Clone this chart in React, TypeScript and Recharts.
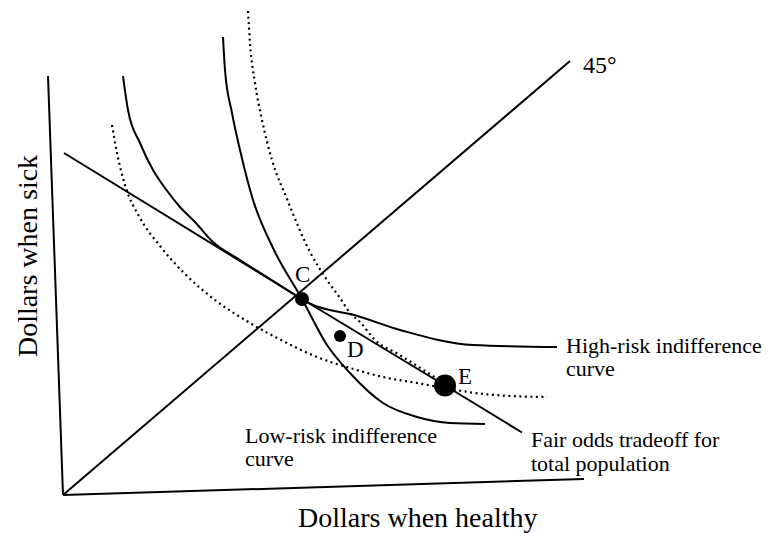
import React from 'react';
import { ComposedChart, Line, XAxis, YAxis, Scatter } from 'recharts';

const W = 771;
const H = 533;
const FONT = "'Liberation Serif', 'Times New Roman', Times, serif";
const INK = '#000';

// Axes and reference lines (data units: dollars when healthy / dollars when sick)
const verticalAxis = [
  { x: -3, y: 83.8 },
  { x: 0, y: 0 },
];
const horizontalAxis = [
  { x: 0, y: 0 },
  { x: 104.2, y: 3.2 },
];
const line45 = [
  { x: 0, y: 0 },
  { x: 101.4, y: 86.8 },
];
const fairOdds = [
  { x: 0.2, y: 68.4 },
  { x: 47.8, y: 39.2 },
  { x: 76.4, y: 21.9 },
  { x: 91.8, y: 12.5 },
];

// Solid indifference curves
const highRiskCurve = [
  { x: 12, y: 83.8 },
  { x: 13, y: 77 },
  { x: 15.4, y: 70.4 },
  { x: 18, y: 65 },
  { x: 20.4, y: 61.4 },
  { x: 23.4, y: 57.6 },
  { x: 26.4, y: 54.6 },
  { x: 30, y: 50.6 },
  { x: 35.4, y: 47 },
  { x: 41.4, y: 43.2 },
  { x: 47.8, y: 39.2 },
  { x: 50, y: 38 },
  { x: 53.4, y: 37 },
  { x: 57.4, y: 36.2 },
  { x: 67.4, y: 33 },
  { x: 82, y: 30 },
  { x: 98.8, y: 29.6 },
];
const lowRiskCurve = [
  { x: 32, y: 91.6 },
  { x: 32.4, y: 85 },
  { x: 33.8, y: 76.4 },
  { x: 35.4, y: 69 },
  { x: 38, y: 59 },
  { x: 42, y: 49.4 },
  { x: 47.8, y: 39.2 },
  { x: 52.8, y: 30 },
  { x: 57.4, y: 24.4 },
  { x: 64, y: 18.4 },
  { x: 70.8, y: 15.6 },
  { x: 77.4, y: 14.4 },
  { x: 84.4, y: 14.2 },
];

// Dotted indifference curves through E
const dottedSteep = [
  { x: 37, y: 96.8 },
  { x: 37.4, y: 90.4 },
  { x: 38.4, y: 82.4 },
  { x: 39.8, y: 75 },
  { x: 41.8, y: 67 },
  { x: 44.8, y: 59.2 },
  { x: 49.4, y: 48.6 },
  { x: 52.8, y: 43 },
  { x: 55.4, y: 39.4 },
  { x: 57.4, y: 36.4 },
  { x: 59.4, y: 34.6 },
  { x: 62.4, y: 31 },
  { x: 67, y: 28.2 },
  { x: 72.4, y: 24.8 },
  { x: 76.4, y: 22.2 },
];
const dottedFlat = [
  { x: 9.8, y: 74 },
  { x: 10.8, y: 68.4 },
  { x: 12.4, y: 62 },
  { x: 15.4, y: 55.4 },
  { x: 19.4, y: 49.8 },
  { x: 24.4, y: 44.2 },
  { x: 30.4, y: 39 },
  { x: 37.4, y: 34.4 },
  { x: 44, y: 30.8 },
  { x: 50.8, y: 27.6 },
  { x: 57.4, y: 25.4 },
  { x: 64, y: 23.6 },
  { x: 70.8, y: 22.4 },
  { x: 76.4, y: 21.4 },
  { x: 82.4, y: 20.4 },
  { x: 89.4, y: 19.8 },
  { x: 96.8, y: 19.6 },
];

const points = [
  { label: 'C', x: 47.8, y: 39.2 },
  { label: 'D', x: 55.4, y: 31.8 },
  { label: 'E', x: 76.4, y: 21.9 },
];

const dotRadius: Record<string, number> = { C: 7, D: 6, E: 11 };
const labelOffset: Record<string, [number, number]> = {
  C: [-7, -17],
  D: [7, 21],
  E: [13, -2],
};

function PointMark(props: any) {
  const { cx, cy, payload } = props;
  if (cx == null || cy == null || !payload) return null;
  const r = dotRadius[payload.label];
  const [dx, dy] = labelOffset[payload.label];
  return (
    <g>
      <circle cx={cx} cy={cy} r={r} fill={INK} />
      <text x={cx + dx} y={cy + dy} style={{ fontFamily: FONT, fontSize: 23, fill: INK }}>
        {payload.label}
      </text>
    </g>
  );
}

const t = (size: number) => ({ fontFamily: FONT, fontSize: size, fill: INK });

const lineCommon = {
  dataKey: 'y',
  stroke: INK,
  dot: false,
  activeDot: false,
  isAnimationActive: false,
  legendType: 'none' as const,
};

export default function App() {
  return (
    <div style={{ position: 'absolute', left: 0, top: 0, width: W, height: H, background: '#fff' }}>
      <ComposedChart width={W} height={H} margin={{ top: 0, right: 0, bottom: 0, left: 0 }}>
        <XAxis type="number" dataKey="x" domain={[-12.6, 141.6]} allowDataOverflow hide />
        <YAxis type="number" dataKey="y" domain={[-7.6, 99]} allowDataOverflow hide />
        <Line {...lineCommon} data={verticalAxis} type="linear" strokeWidth={2} />
        <Line {...lineCommon} data={horizontalAxis} type="linear" strokeWidth={2} />
        <Line {...lineCommon} data={line45} type="linear" strokeWidth={2} />
        <Line {...lineCommon} data={fairOdds} type="linear" strokeWidth={2} />
        <Line {...lineCommon} data={highRiskCurve} type="monotone" strokeWidth={2} />
        <Line {...lineCommon} data={lowRiskCurve} type="monotone" strokeWidth={2} />
        <Line {...lineCommon} data={dottedSteep} type="monotone" strokeWidth={2.2} strokeDasharray="2 3.5" />
        <Line {...lineCommon} data={dottedFlat} type="monotone" strokeWidth={2.2} strokeDasharray="2 3.5" />
        <Scatter data={points} shape={PointMark} isAnimationActive={false} legendType="none" />
      </ComposedChart>
      <svg width={W} height={H} style={{ position: 'absolute', left: 0, top: 0, pointerEvents: 'none' }}>
        <text x={583} y={73} style={t(24)}>45°</text>
        <text x={566} y={353} style={t(22)}>High-risk indifference</text>
        <text x={566} y={376} style={t(22)}>curve</text>
        <text x={531} y={447} style={t(22)}>Fair odds tradeoff for</text>
        <text x={531} y={471} style={t(22)}>total population</text>
        <text x={245} y={443} style={t(22)}>Low-risk indifference</text>
        <text x={245} y={466} style={t(22)}>curve</text>
        <text x={298} y={527} style={t(28)}>Dollars when healthy</text>
        <text x={37} y={256} textAnchor="middle" transform="rotate(-90, 37, 256)" style={t(28)}>
          Dollars when sick
        </text>
      </svg>
    </div>
  );
}
